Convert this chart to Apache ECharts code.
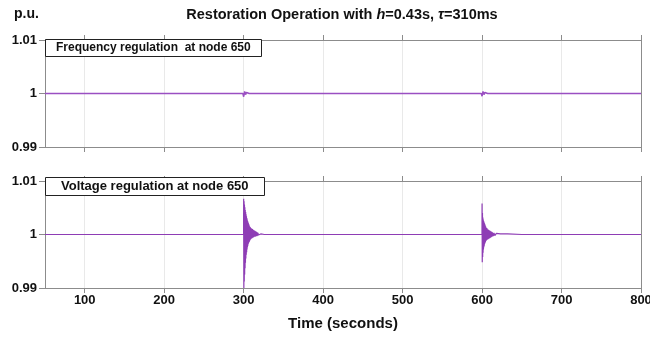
<!DOCTYPE html>
<html>
<head>
<meta charset="utf-8">
<script src="https://cdn.jsdelivr.net/npm/echarts@6/dist/echarts.min.js"></script>
<style>
  html, body { margin: 0; padding: 0; background: #fff; }
  #chart { width: 650px; height: 341px; }
</style>
</head>
<body>
<div id="chart"></div>
<script>
// tick values
const xTicks = [100, 200, 300, 400, 500, 600, 700, 800];
const yTicks = [0.99, 1, 1.01];

// frequency at node 650 (p.u.), [time s, value]
const freqData = [
  [50, 1], [299, 1], [300, 0.9994], [301.2, 1.0004], [302.4, 0.9998], [303.6, 1.0002], [305, 1.0001], [307, 1],
  [599, 1], [600, 0.9995], [601.2, 1.0004], [602.4, 0.9998], [603.6, 1.0002], [605, 1.0001], [607, 1], [800, 1]
];

// voltage at node 650 (p.u.), [time s, value]
const voltBefore = [[50, 1], [299.9, 1]];
const voltEvent300 = [
  [300, 1.0067], [300.25, 0.9900], [300.5, 1.0062], [300.75, 0.9912], [301, 1.0056], [301.25, 0.9925],
  [301.5, 1.0051], [301.75, 0.9937], [302, 1.0046], [302.25, 0.9947], [302.5, 1.0042], [302.75, 0.9955],
  [303, 1.0038], [303.25, 0.9962], [303.5, 1.0034], [303.75, 0.9967], [304, 1.0031], [304.25, 0.9972],
  [304.5, 1.0028], [304.75, 0.9976], [305, 1.0025], [305.25, 0.9979], [305.5, 1.0023], [305.75, 0.9982],
  [306, 1.0021], [306.25, 0.9984], [306.5, 1.0019], [306.75, 0.9986], [307, 1.0017], [307.25, 0.9987],
  [307.5, 1.0015], [307.75, 0.9989], [308, 1.0014], [308.25, 0.9990], [308.5, 1.0013], [308.75, 0.9991],
  [309, 1.0012], [309.5, 0.9992], [310, 1.0011], [310.5, 0.9993], [311, 1.0010], [311.5, 0.9994],
  [312, 1.0009], [312.5, 0.9995], [313, 1.0008], [313.5, 0.9996], [314, 1.0007], [314.5, 0.9996],
  [315, 1.0006], [315.5, 0.9997], [316, 1.0005], [316.5, 0.9997], [317, 1.0004], [317.5, 0.9998],
  [318, 1.0003], [318.5, 0.9999], [319, 1.0002], [320, 0.9999], [321.5, 1.0001], [324, 1]
];
const voltBetween = [[326, 1], [599.9, 1]];
const voltEvent600 = [
  [600, 1.0058], [600.25, 0.9948], [600.5, 1.0040], [600.75, 0.9958], [601, 1.0032], [601.25, 0.9966],
  [601.5, 1.0028], [601.75, 0.9972], [602, 1.0025], [602.25, 0.9976], [602.5, 1.0023], [602.75, 0.9979],
  [603, 1.0021], [603.25, 0.9982], [603.5, 1.0019], [603.75, 0.9984], [604, 1.0017], [604.25, 0.9986],
  [604.5, 1.0015], [604.75, 0.9988], [605, 1.0013], [605.5, 0.9989], [606, 1.0012], [606.5, 0.9990],
  [607, 1.0010], [607.5, 0.9991], [608, 1.0009], [608.5, 0.9992], [609, 1.0008], [609.5, 0.9993],
  [610, 1.0007], [610.5, 0.9994], [611, 1.0006], [611.5, 0.9995], [612, 1.0005], [612.5, 0.9996],
  [613, 1.0004], [614, 0.9997], [615, 1.0003], [616, 0.9998], [618, 1.0002], [620, 0.9999],
  [623, 1.0001], [632, 1.0001], [650, 1]
];
const voltAfter = [[660, 1], [800, 1]];
const voltData = voltBefore.concat(voltEvent300, voltBetween, voltEvent600, voltAfter);

const chart = echarts.init(document.getElementById('chart'));
const font = '"Liberation Sans", Arial, sans-serif';
const gridColor = '#e9e9e9';
const frameColor = '#8c8c8c';

function xAxisFor(gridIndex, position, showLabels) {
  return {
    type: 'value', gridIndex: gridIndex, position: position,
    min: 50, max: 800,
    axisLine: { show: true, onZero: false, lineStyle: { color: frameColor } },
    axisTick: { show: true, inside: false, length: 5, customValues: xTicks, lineStyle: { color: frameColor } },
    axisLabel: {
      show: showLabels, customValues: xTicks, margin: 6,
      color: '#111', fontFamily: font, fontWeight: 'bold', fontSize: 13
    },
    splitLine: { show: position === 'bottom', lineStyle: { color: gridColor } },
    name: showLabels ? 'Time (seconds)' : '',
    nameLocation: 'middle', nameGap: 28,
    nameTextStyle: { color: '#111', fontFamily: font, fontWeight: 'bold', fontSize: 15 }
  };
}

function yAxisFor(gridIndex, position, showLabels) {
  return {
    type: 'value', gridIndex: gridIndex, position: position,
    min: 0.99, max: 1.01,
    axisLine: { show: true, onZero: false, lineStyle: { color: frameColor } },
    axisTick: { show: showLabels, length: 6, customValues: yTicks, lineStyle: { color: frameColor } },
    axisLabel: {
      show: showLabels, customValues: yTicks, margin: 8,
      color: '#111', fontFamily: font, fontWeight: 'bold', fontSize: 13
    },
    splitLine: { show: false }
  };
}

const boxStyle = {
  fontFamily: font, fontWeight: 'bold', fontSize: 12, color: '#111'
};

const option = {
  backgroundColor: '#fff',
  animation: false,
  title: [
    {
      text: 'Restoration Operation with {i|h}=0.43s, {i|τ}=310ms',
      left: 337, top: 2, textAlign: 'center',
      textStyle: {
        fontFamily: font, fontWeight: 'bold', fontSize: 14.5, color: '#111',
        rich: { i: { fontFamily: font, fontWeight: 'bold', fontStyle: 'italic', fontSize: 14.5, color: '#111' } }
      }
    },
    {
      text: 'p.u.', left: 9, top: 2,
      textStyle: { fontFamily: font, fontWeight: 'bold', fontSize: 14, color: '#111' }
    },
    {
      text: 'Frequency regulation  at node 650', left: 45, top: 39,
      backgroundColor: '#fff', borderColor: '#222', borderWidth: 1,
      padding: [3, 11, 3, 11], textStyle: boxStyle
    },
    {
      text: 'Voltage regulation at node 650', left: 45, top: 177,
      backgroundColor: '#fff', borderColor: '#222', borderWidth: 1,
      padding: [3, 16, 3, 16], textStyle: { fontFamily: font, fontWeight: 'bold', fontSize: 13, color: '#111' }
    }
  ],
  grid: [
    { left: 45, right: 9, top: 40, height: 107, outerBoundsMode: 'none' },
    { left: 45, right: 9, top: 181, height: 107, outerBoundsMode: 'none' }
  ],
  xAxis: [
    xAxisFor(0, 'bottom', false),
    xAxisFor(0, 'top', false),
    xAxisFor(1, 'bottom', true),
    xAxisFor(1, 'top', false)
  ],
  yAxis: [
    yAxisFor(0, 'left', true),
    yAxisFor(0, 'right', false),
    yAxisFor(1, 'left', true),
    yAxisFor(1, 'right', false)
  ],
  series: [
    {
      type: 'line', xAxisIndex: 0, yAxisIndex: 0, data: freqData,
      showSymbol: false, lineStyle: { color: '#9a4fc2', width: 1.5 }
    },
    {
      type: 'line', xAxisIndex: 2, yAxisIndex: 2, data: voltData,
      showSymbol: false, lineStyle: { color: '#8e3db5', width: 1.2 }
    }
  ]
};

chart.setOption(option);
</script>
</body>
</html>
